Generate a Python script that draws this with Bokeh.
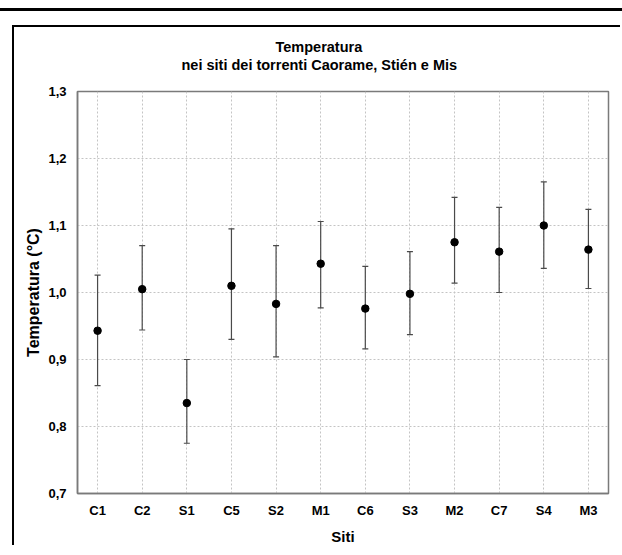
from bokeh.plotting import figure
from bokeh.models import (ColumnDataSource, Whisker, TeeHead, Range1d, FixedTicker,
                          CustomJSTickFormatter, Div, Title)
from bokeh.layouts import column
from bokeh.embed import file_html
from bokeh.resources import INLINE

# ---- data ----
sites = ["C1", "C2", "S1", "C5", "S2", "M1", "C6", "S3", "M2", "C7", "S4", "M3"]
means = [0.943, 1.005, 0.835, 1.010, 0.983, 1.043, 0.976, 0.998, 1.075, 1.061, 1.100, 1.064]
upper = [1.026, 1.070, 0.900, 1.095, 1.070, 1.106, 1.039, 1.061, 1.142, 1.127, 1.165, 1.124]
lower = [0.861, 0.944, 0.775, 0.930, 0.904, 0.977, 0.916, 0.937, 1.014, 1.000, 1.036, 1.006]
y_ticks = [0.7, 0.8, 0.9, 1.0, 1.1, 1.2, 1.3]
title_lines = ["Temperatura", "nei siti dei torrenti Caorame, Stién e Mis"]

x = list(range(1, len(sites) + 1))
src = ColumnDataSource(dict(x=x, mean=means, upper=upper, lower=lower))

FONT = "Liberation Sans"

p = figure(width=608, height=520,
           x_range=Range1d(0.55, 12.45), y_range=Range1d(0.7, 1.3),
           output_backend="svg", toolbar_location=None,
           min_border_left=63, min_border_right=14, min_border_top=64, min_border_bottom=49,
           title=title_lines[0])

p.styles = {"border-left": "2px solid black", "border-top": "2px solid black"}
p.margin = (14, 0, 0, 12)

p.background_fill_color = "white"
p.border_fill_color = "white"
p.outline_line_color = "#7a7a7a"
p.outline_line_width = 1.5

def style_title(t, off):
    t.align = "left"
    t.offset = off
    t.text_font = FONT
    t.text_font_size = "14.5px"
    t.text_font_style = "bold"
    t.text_color = "black"

# outermost title line
style_title(p.title, 198)
p.title.standoff = 0

# spacer (closest to the frame), then second title line
spacer = Title(text=" ", text_font_size="1px", standoff=16)
p.add_layout(spacer, "above")
t2 = Title(text=title_lines[1])
style_title(t2, 104)
t2.standoff = 0
p.add_layout(t2, "above")

# axes
p.xaxis.ticker = FixedTicker(ticks=x)
p.xaxis.major_label_overrides = {i: s for i, s in zip(x, sites)}
p.yaxis.ticker = FixedTicker(ticks=y_ticks)
p.yaxis.formatter = CustomJSTickFormatter(code="return tick.toFixed(1).replace('.', ',');")

for ax in (p.xaxis[0], p.yaxis[0]):
    ax.axis_line_color = "#7a7a7a"
    ax.axis_line_width = 1.5
    ax.major_tick_in = 0
    ax.major_tick_out = 0
    ax.minor_tick_line_color = None
    ax.major_label_text_font = FONT
    ax.major_label_text_font_style = "bold"
    ax.major_label_text_font_size = "13px"
    ax.major_label_text_color = "black"
    ax.axis_label_text_font = FONT
    ax.axis_label_text_font_style = "bold"
    ax.axis_label_text_font_size = "15px"
    ax.axis_label_text_color = "black"

p.yaxis.axis_label_text_font_size = "16px"
p.xaxis.axis_label = "Siti"
p.yaxis.axis_label = "Temperatura (°C)"
p.xaxis.major_label_standoff = 9
p.xaxis.axis_label_standoff = 7
p.yaxis.major_label_standoff = 11
p.yaxis.axis_label_standoff = 3

# grid
for g in (p.xgrid[0], p.ygrid[0]):
    g.grid_line_color = "#c4c4c4"
    g.grid_line_dash = "2 2"
    g.grid_line_width = 1

# error bars
w = Whisker(base="x", upper="upper", lower="lower", source=src,
            line_color="#4a4a4a", line_width=1.2,
            upper_head=TeeHead(size=6, line_color="#4a4a4a", line_width=1.2),
            lower_head=TeeHead(size=6, line_color="#4a4a4a", line_width=1.2))
p.add_layout(w)

p.scatter(x="x", y="mean", source=src, size=7.5, color="black")

top_line = Div(width=622, height=3, styles={"background-color": "black"}, margin=(8, 0, 0, 0))

layout = column(top_line, p, spacing=0)

open("out.html", "w").write(file_html(layout, INLINE))
